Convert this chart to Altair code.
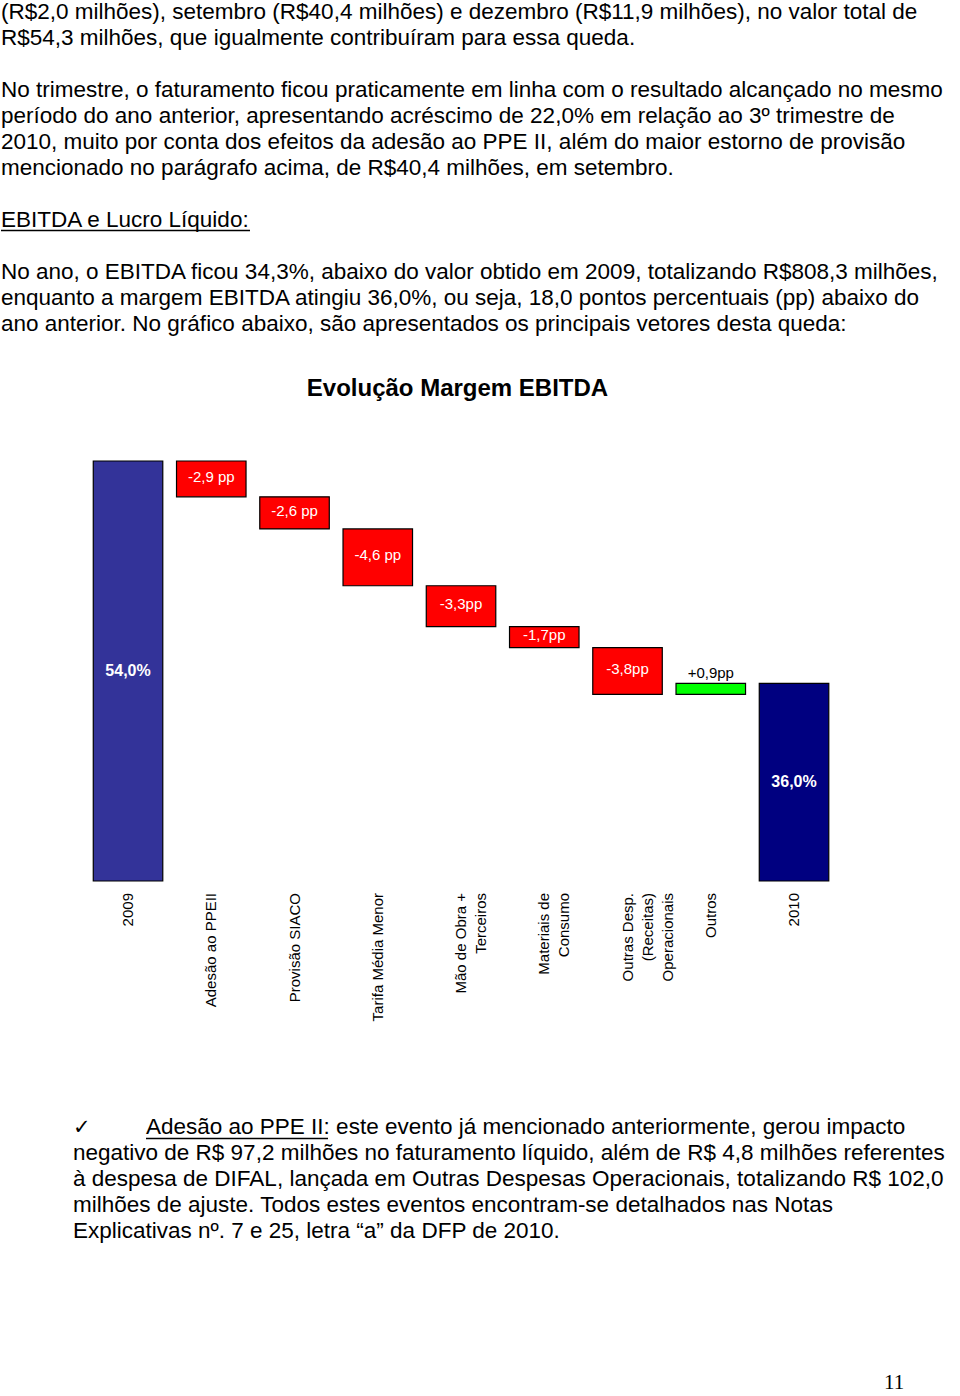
import altair as alt
import pandas as pd

# ---------------- chart data ----------------
CATEGORIES = ["2009", "Adesão ao PPEII", "Provisão SIACO", "Tarifa Média Menor",
              "Mão de Obra + Terceiros", "Materiais de Consumo",
              "Outras Desp. (Receitas) Operacionais", "Outros", "2010"]
TICK_LABELS = ["2009", "Adesão ao PPEII", "Provisão SIACO", "Tarifa Média Menor",
               "Mão de Obra +|Terceiros", "Materiais de|Consumo",
               "Outras Desp.|(Receitas)|Operacionais", "Outros", "2010"]
VALUES = [54.0, -2.9, -2.6, -4.6, -3.3, -1.7, -3.8, 0.9, 36.0]
KINDS = ["inicio", "queda", "queda", "queda", "queda", "queda", "queda", "alta", "fim"]
BAR_LABELS = ["54,0%", "-2,9 pp", "-2,6 pp", "-4,6 pp", "-3,3pp", "-1,7pp",
              "-3,8pp", "+0,9pp", "36,0%"]
AXIS_MIN = 20.0

TITLE = "Evolução Margem EBITDA"

# ---------------- page text ----------------
PARA_1 = [
    "(R$2,0 milhões), setembro (R$40,4 milhões) e dezembro (R$11,9 milhões), no valor total de",
    "R$54,3 milhões, que igualmente contribuíram para essa queda.",
]
PARA_2 = [
    "No trimestre, o faturamento ficou praticamente em linha com o resultado alcançado no mesmo",
    "período do ano anterior, apresentando acréscimo de 22,0% em relação ao 3º trimestre de",
    "2010, muito por conta dos efeitos da adesão ao PPE II, além do maior estorno de provisão",
    "mencionado no parágrafo acima, de R$40,4 milhões, em setembro.",
]
HEADING = ["EBITDA e Lucro Líquido:"]
PARA_3 = [
    "No ano, o EBITDA ficou 34,3%, abaixo do valor obtido em 2009, totalizando R$808,3 milhões,",
    "enquanto a margem EBITDA atingiu 36,0%, ou seja, 18,0 pontos percentuais (pp) abaixo do",
    "ano anterior. No gráfico abaixo, são apresentados os principais vetores desta queda:",
]
CHECK = ["✓"]
BULLET_FIRST = ["Adesão ao PPE II: este evento já mencionado anteriormente, gerou impacto"]
BULLET_REST = [
    "negativo de R$ 97,2 milhões no faturamento líquido, além de R$ 4,8 milhões referentes",
    "à despesa de DIFAL, lançada em Outras Despesas Operacionais, totalizando R$ 102,0",
    "milhões de ajuste. Todos estes eventos encontram-se detalhados nas Notas",
    "Explicativas nº. 7 e 25, letra “a” da DFP de 2010.",
]
PAGE_NUMBER = ["11"]

# ---------------- build waterfall table ----------------
rows = []
level = 0.0
for cat, tick, v, k, lab in zip(CATEGORIES, TICK_LABELS, VALUES, KINDS, BAR_LABELS):
    if k in ("inicio", "fim"):
        start, end = AXIS_MIN, v
        level = v
    else:
        start, end = level, level + v
        level = end
    rows.append(dict(categoria=cat, rotulo=tick, inicio=start, fim=end, tipo=k, texto=lab))
df = pd.DataFrame(rows)

FONT = "Liberation Sans"

x_scale = alt.Scale(domain=CATEGORIES, range=[86.4, 835.65],
                    paddingInner=0.165, paddingOuter=0.0825)
y_scale = alt.Scale(domain=[AXIS_MIN, max(VALUES)], range=[881, 461], nice=False, zero=False)
color_scale = alt.Scale(domain=["inicio", "queda", "alta", "fim"],
                        range=["#333399", "#FF0000", "#00FF00", "#000080"])

X = alt.X("categoria:N", scale=x_scale, axis=None)

bars = alt.Chart(df).mark_bar(stroke="#000000", strokeWidth=1.2, opacity=1).encode(
    x=X,
    y=alt.Y("inicio:Q", scale=y_scale, axis=None),
    y2="fim:Q",
    color=alt.Color("tipo:N", scale=color_scale, legend=None),
)

drop_labels = alt.Chart(df).transform_filter("datum.tipo == 'queda'").transform_calculate(
    meio="(datum.inicio + datum.fim) / 2"
).mark_text(color="white", fontSize=15, font=FONT, align="center", baseline="middle",
            dy=-2).encode(
    x=X, y=alt.Y("meio:Q", scale=y_scale, axis=None), text="texto:N"
)

total_labels = alt.Chart(df).transform_filter(
    "datum.tipo == 'inicio' || datum.tipo == 'fim'"
).transform_calculate(
    meio="(datum.inicio + datum.fim) / 2"
).mark_text(color="white", fontSize=16, fontWeight="bold", font=FONT,
            align="center", baseline="middle").encode(
    x=X, y=alt.Y("meio:Q", scale=y_scale, axis=None), text="texto:N"
)

rise_labels = alt.Chart(df).transform_filter("datum.tipo == 'alta'").transform_calculate(
    topo="max(datum.inicio, datum.fim)"
).mark_text(color="black", fontSize=15, font=FONT, align="center",
            baseline="alphabetic", dy=-5).encode(
    x=X, y=alt.Y("topo:Q", scale=y_scale, axis=None), text="texto:N"
)

cat_labels = alt.Chart(df).transform_calculate(
    linhas="split(datum.rotulo, '|')"
).mark_text(color="black", fontSize=15, font=FONT, angle=270, align="right",
            baseline="middle", lineHeight=20).encode(
    x=X, y=alt.value(893), text="linhas:N"
)


def text_block(lines, x, y, size=22.5, weight="normal", font=FONT, align="left"):
    return alt.Chart(alt.Data(values=[{"linhas": lines}])).mark_text(
        align=align, baseline="alphabetic", fontSize=size, fontWeight=weight,
        font=font, lineHeight=26, color="black"
    ).encode(x=alt.value(x), y=alt.value(y), text="linhas:N")


def underline(x1, x2, y):
    return alt.Chart(alt.Data(values=[{"u": 1}])).mark_rule(
        color="black", strokeWidth=1.3
    ).encode(x=alt.value(x1), x2=alt.value(x2), y=alt.value(y))


title = text_block([TITLE], 457.5, 396, size=24, weight="bold", align="center")

layers = [
    text_block(PARA_1, 1, 19),
    text_block(PARA_2, 1, 97),
    text_block(HEADING, 1, 227),
    underline(1, 250, 230.5),
    text_block(PARA_3, 1, 279),
    title,
    bars,
    drop_labels,
    total_labels,
    rise_labels,
    cat_labels,
    text_block(CHECK, 73, 1134, size=21, font="DejaVu Sans"),
    text_block(BULLET_FIRST, 146, 1134),
    underline(146, 328, 1138.5),
    text_block(BULLET_REST, 73, 1160),
    text_block(PAGE_NUMBER, 884, 1389, size=21, font="Liberation Serif"),
]

chart = alt.layer(*layers).properties(
    width=960, height=1396, padding=0, background="white",
    autosize=alt.AutoSizeParams(type="none"),
).configure_view(strokeWidth=0)

chart.save("out.html", embed_options={"renderer": "svg", "actions": False})
